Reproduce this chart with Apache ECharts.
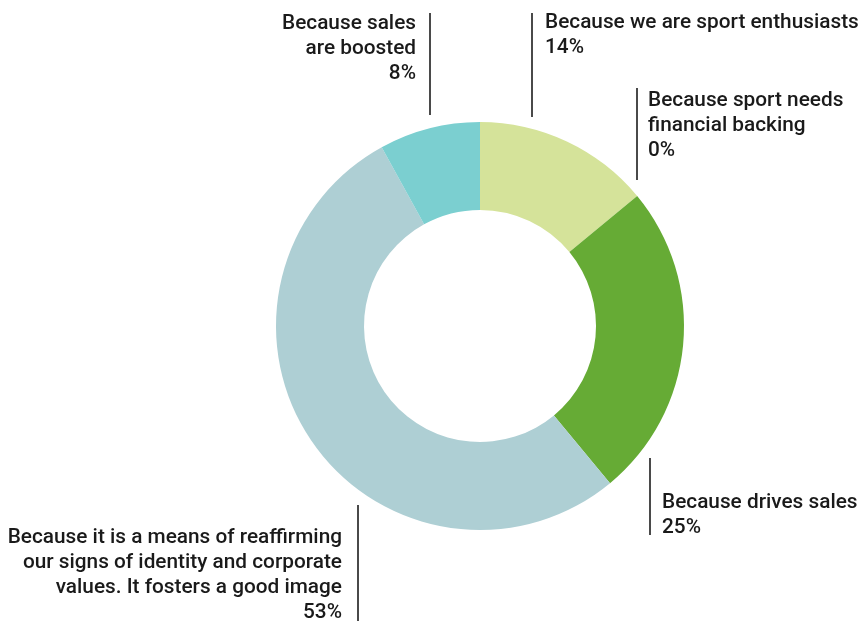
<!DOCTYPE html>
<html>
<head>
<meta charset="utf-8">
<script src="https://cdn.jsdelivr.net/npm/echarts@6/dist/echarts.min.js"></script>
<style>
  html, body { margin: 0; padding: 0; background: #ffffff; }
  #chart { width: 867px; height: 621px; }
</style>
</head>
<body>
<div id="chart"></div>
<script>
// Reasons for sponsoring sport (share of answers, %)
const categories = [
  'Because we are sport enthusiasts',
  'Because sport needs\nfinancial backing',
  'Because drives sales',
  'Because it is a means of reaffirming\nour signs of identity and corporate\nvalues. It fosters a good image',
  'Because sales\nare boosted'
];
const shares = [14, 0, 25, 53, 8];
const sliceColors = ['#d5e39a', '#66ab35', '#66ab35', '#aecfd4', '#7bcfd0'];

// Where each label block sits, and the vertical rule drawn beside it
const labelSpots = [
  { x: 545, y: 10, align: 'left',  rule: [532, 13, 117] },
  { x: 648, y: 88, align: 'left',  rule: [637, 88, 180] },
  { x: 662, y: 490, align: 'left', rule: [650, 458, 535] },
  { x: 342, y: 525, align: 'right', rule: [358, 505, 621] },
  { x: 416, y: 11, align: 'right', rule: [430, 13, 115] }
];

const chart = echarts.init(document.getElementById('chart'), null, { renderer: 'canvas' });

chart.setOption({
  backgroundColor: '#ffffff',
  animation: false,
  series: [{
    type: 'pie',
    center: [480, 326],
    radius: [116, 204],
    startAngle: 90,
    clockwise: true,
    avoidLabelOverlap: false,
    data: categories.map((name, i) => ({
      name: name,
      value: shares[i],
      itemStyle: { color: sliceColors[i] }
    })),
    label: {
      show: true,
      formatter: p => p.name + '\n' + p.value + '%',
      fontFamily: 'Roboto',
      fontWeight: 500,
      fontSize: 20.8,
      lineHeight: 25,
      color: '#1a1a1a'
    },
    labelLine: {
      show: true,
      lineStyle: { color: '#4a4a4a', width: 2 }
    },
    emphasis: { disabled: true },
    labelLayout: function (params) {
      const s = labelSpots[params.dataIndex];
      return {
        x: s.x,
        y: s.y,
        align: s.align,
        verticalAlign: 'top',
        labelLinePoints: [[s.rule[0], s.rule[1]], [s.rule[0], s.rule[1]], [s.rule[0], s.rule[2]]]
      };
    }
  }]
});
</script>
</body>
</html>
